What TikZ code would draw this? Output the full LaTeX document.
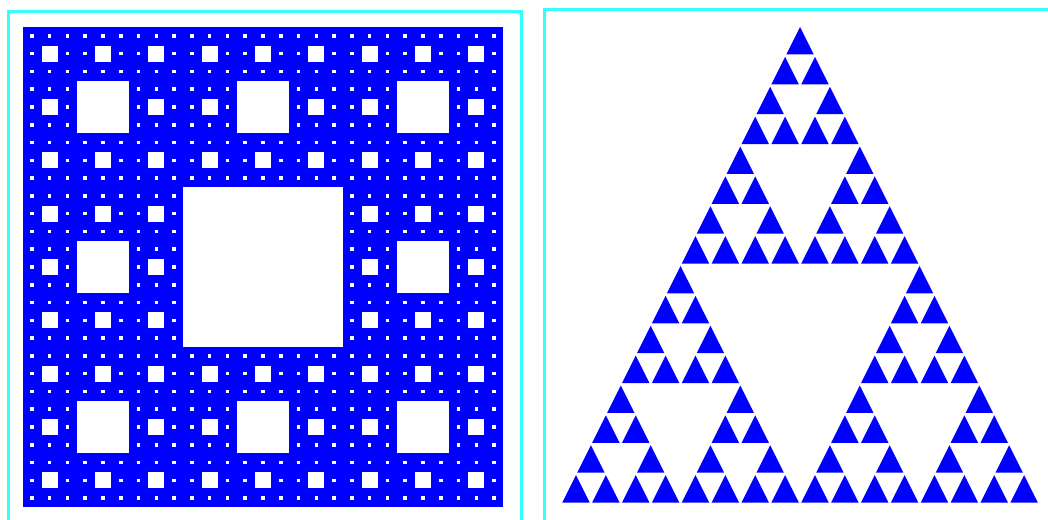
\documentclass[tikz,border=0pt]{standalone}
\usetikzlibrary{calc}
\definecolor{bluex}{HTML}{0000FF}
\definecolor{cyanx}{HTML}{33FFFF}
\tikzset{
  frm/.style={draw=cyanx,line width=3pt},
  hole/.style={fill=white},
  tri/.style={fill=bluex}
}
\begin{document}
\begin{tikzpicture}[x=1pt,y=-1pt]
\useasboundingbox (0,0) rectangle (1048,519);
\clip (0,0) rectangle (1048,519);
\fill[white] (0,0) rectangle (1048,519);
% frames
\draw[frm] (8,12) rectangle (521.5,540);
\draw[frm] (544,10) rectangle (1070,540);
% carpet
\fill[bluex] (23,27) rectangle (503,507);
\foreach \k/\n/\gap in {1/1/0,2/3/0.7,3/9/0.9,4/27/1.2}{
  \pgfmathsetmacro\sz{480/3^\k}
  \foreach \i in {1,...,\n}{
    \foreach \j in {1,...,\n}{
      \fill[hole] ({23+(3*\i-2)*\sz+\gap},{27+(3*\j-2)*\sz+\gap}) rectangle ++({\sz-2*\gap},{\sz-2*\gap});
    }
  }
}
% triangle
\def\cell{29.875}
\foreach \a in {-1,0,1}{
 \foreach \b in {-1,0,1}{
  \foreach \c in {-1,0,1}{
   \foreach \d in {-1,0,1}{
     \pgfmathsetmacro\tx{800+(8*\a+4*\b+2*\c+\d)*\cell/2}
     \pgfmathsetmacro\ty{27+(8*abs(\a)+4*abs(\b)+2*abs(\c)+abs(\d))*\cell}
     \fill[tri] (\tx,\ty) -- ++({-0.46*\cell},{0.92*\cell}) -- ++({0.92*\cell},0) -- cycle;
   }
  }
 }
}
\end{tikzpicture}
\end{document}
